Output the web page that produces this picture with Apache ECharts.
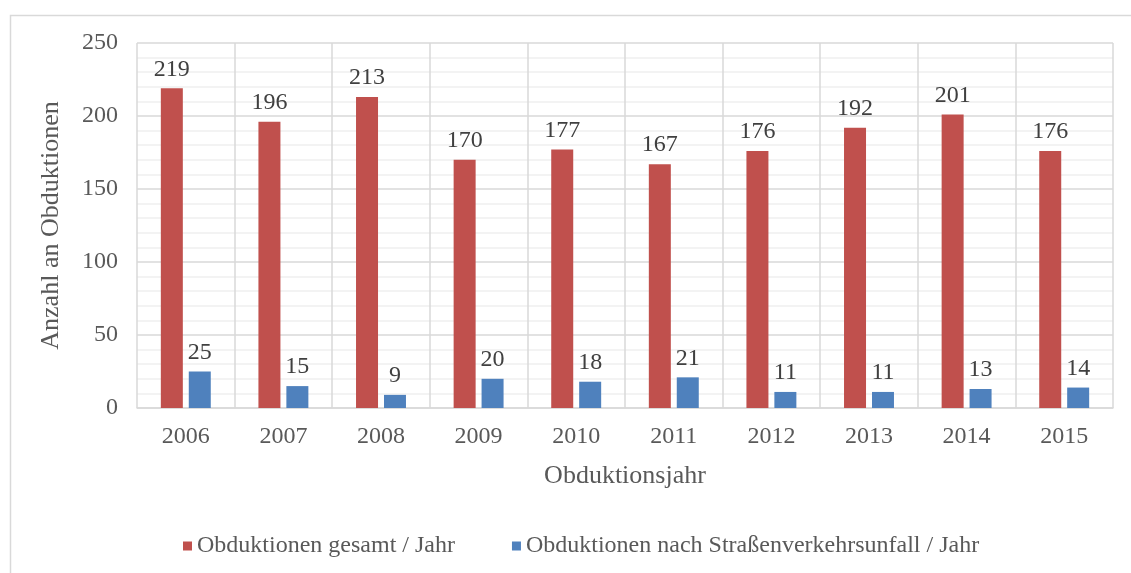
<!DOCTYPE html>
<html>
<head>
<meta charset="utf-8">
<script src="https://cdn.jsdelivr.net/npm/echarts@6/dist/echarts.min.js"></script>
<style>
html,body{margin:0;padding:0;background:#fff;}
#main{width:1131px;height:573px;}
</style>
</head>
<body>
<div id="main"></div>
<script>
// Jahre und Werte
const years = ['2006','2007','2008','2009','2010','2011','2012','2013','2014','2015'];
const gesamt = [219,196,213,170,177,167,176,192,201,176];
const verkehr = [25,15,9,20,18,21,11,11,13,14];
const seriesNames = ['Obduktionen gesamt / Jahr','Obduktionen nach Straßenverkehrsunfall / Jahr'];

const font = 'Liberation Serif';
const chart = echarts.init(document.getElementById('main'));

const labelStyle = {
    show: true,
    position: 'top',
    distance: 7,
    fontFamily: font,
    fontSize: 24,
    color: '#404040'
};

chart.setOption({
    animation: false,
    textStyle: {fontFamily: font},
    graphic: [{
        type: 'rect',
        left: 8, top: 13,
        shape: {width: 1140, height: 580},
        style: {fill: 'none', stroke: '#d9d9d9', lineWidth: 1.5},
        silent: true
    }],
    grid: {left: 137, right: 18, top: 43, bottom: 165},
    legend: {
        bottom: 10,
        left: 178,
        itemWidth: 9,
        itemHeight: 9,
        itemGap: 57,
        icon: 'rect',
        textStyle: {fontFamily: font, fontSize: 24, color: '#595959'},
        data: seriesNames
    },
    xAxis: {
        type: 'category',
        data: years,
        name: 'Obduktionsjahr',
        nameLocation: 'middle',
        nameGap: 55,
        nameTextStyle: {fontFamily: font, fontSize: 26, color: '#595959'},
        axisLine: {lineStyle: {color: '#d9d9d9', width: 1.5}},
        axisTick: {show: false},
        axisLabel: {fontFamily: font, fontSize: 24, color: '#595959', margin: 17},
        splitLine: {show: true, lineStyle: {color: '#d9d9d9', width: 1.5}}
    },
    yAxis: {
        type: 'value',
        min: 0,
        max: 250,
        interval: 50,
        name: 'Anzahl an Obduktionen',
        nameLocation: 'middle',
        nameGap: 73,
        nameTextStyle: {fontFamily: font, fontSize: 26, color: '#595959'},
        axisLine: {show: false},
        axisTick: {show: false},
        axisLabel: {fontFamily: font, fontSize: 24, color: '#595959', margin: 19},
        splitLine: {lineStyle: {color: '#d9d9d9', width: 1.5}},
        minorTick: {show: false, splitNumber: 5},
        minorSplitLine: {show: true, lineStyle: {color: '#efefef', width: 1.5}}
    },
    series: [
        {
            name: seriesNames[0],
            type: 'bar',
            data: gesamt,
            barWidth: 22,
            barGap: '27%',
            itemStyle: {color: '#c0504d'},
            label: labelStyle
        },
        {
            name: seriesNames[1],
            type: 'bar',
            data: verkehr,
            barWidth: 22,
            itemStyle: {color: '#4f81bd'},
            label: labelStyle
        }
    ]
});
</script>
</body>
</html>
